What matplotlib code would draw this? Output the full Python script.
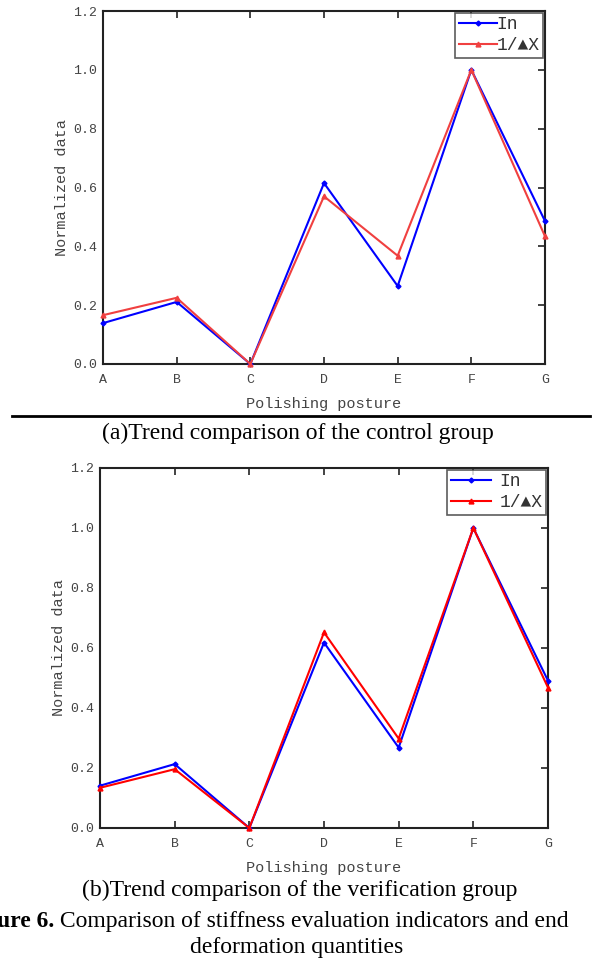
import matplotlib
matplotlib.use("Agg")
import matplotlib.pyplot as plt

categories = ["A", "B", "C", "D", "E", "F", "G"]
yticks = [0.0, 0.2, 0.4, 0.6, 0.8, 1.0, 1.2]

a_in = [0.139, 0.211, 0.0, 0.615, 0.265, 1.0, 0.486]
a_dx = [0.166, 0.225, 0.0, 0.570, 0.368, 1.0, 0.434]
b_in = [0.141, 0.213, 0.0, 0.618, 0.268, 1.0, 0.491]
b_dx = [0.134, 0.196, 0.0, 0.652, 0.298, 1.0, 0.468]

series_labels = ["In", "1/\u25b2X"]
xlabel = "Polishing posture"
ylabel = "Normalized data"
cap_a = "(a)Trend comparison of the control group"
cap_b = "(b)Trend comparison of the verification group"
fig_bold = "Figure 6."
fig_line1 = " Comparison of stiffness evaluation indicators and end"
fig_line2 = "deformation quantities"

W, H = 595, 964
fig = plt.figure(figsize=(W / 100, H / 100), dpi=100)

mono = ["Liberation Mono", "DejaVu Sans"]
serif = ["Liberation Serif", "DejaVu Serif"]


def px_axes(l, r, t, b):
    return fig.add_axes([l / W, 1 - b / H, (r - l) / W, (b - t) / H])


def draw_panel(ax, s_in, s_dx, red, hlen, tpad):
    x = list(range(len(categories)))
    ax.plot(x, s_in, color="#0000FF", lw=1.5, marker="D", ms=2.5, label=series_labels[0], clip_on=False, zorder=3)
    ax.plot(x, s_dx, color=red, lw=1.5, marker="^", ms=3.5, label=series_labels[1], clip_on=False, zorder=3)
    ax.set_xlim(0, len(categories) - 1)
    ax.set_ylim(0, 1.2)
    ax.set_xticks(x)
    ax.set_xticklabels(categories)
    ax.set_yticks(yticks)
    ax.set_yticklabels([f"{v:.1f}" for v in yticks])
    for lab in ax.get_xticklabels() + ax.get_yticklabels():
        lab.set_family(mono)
        lab.set_fontsize(9.5)
        lab.set_color("#444444")
    ax.tick_params(axis="x", direction="in", length=5, width=1.2, top=True, pad=7, color="#222222")
    ax.tick_params(axis="y", direction="in", length=5, width=1.2, right=True, left=False, pad=4, color="#222222")
    for s in ax.spines.values():
        s.set_linewidth(1.5)
        s.set_color("#222222")
    ax.set_xlabel(xlabel, family=mono, fontsize=11, color="#444444", labelpad=8)
    ax.set_ylabel(ylabel, family=mono, fontsize=11, color="#444444", labelpad=3)
    leg = ax.legend(loc="upper right", bbox_to_anchor=(1.0, 1.0), prop={"family": mono, "size": 13},
                    frameon=True, fancybox=False, edgecolor="#333333", handlelength=hlen,
                    handletextpad=tpad, borderpad=0.2, labelspacing=0.2, borderaxespad=0.1)
    leg.get_frame().set_linewidth(1.2)
    for t in leg.get_texts():
        t.set_color("#333333")


ax1 = px_axes(103, 545, 11, 364)
draw_panel(ax1, a_in, a_dx, "#F04040", 2.1, 0.0)
ax2 = px_axes(100, 548, 468, 828)
draw_panel(ax2, b_in, b_dx, "#FF0000", 2.2, 0.5)

# horizontal rule between panels
fig.add_artist(plt.Line2D([12 / W, 590 / W], [1 - 416 / H, 1 - 416 / H], color="black", lw=2))

fs = 17
fig.text(298 / W, 1 - 433 / H, cap_a, ha="center", va="center", family=serif, fontsize=fs)
fig.text(300 / W, 1 - 890 / H, cap_b, ha="center", va="center", family=serif, fontsize=fs)
fig.text(54 / W, 1 - 922 / H, fig_bold, ha="right", va="center", family=serif, fontsize=fs, fontweight="bold")
fig.text(54 / W, 1 - 922 / H, fig_line1, ha="left", va="center", family=serif, fontsize=fs)
fig.text(297 / W, 1 - 948 / H, fig_line2, ha="center", va="center", family=serif, fontsize=fs)

fig.savefig("out.png", dpi=100)
